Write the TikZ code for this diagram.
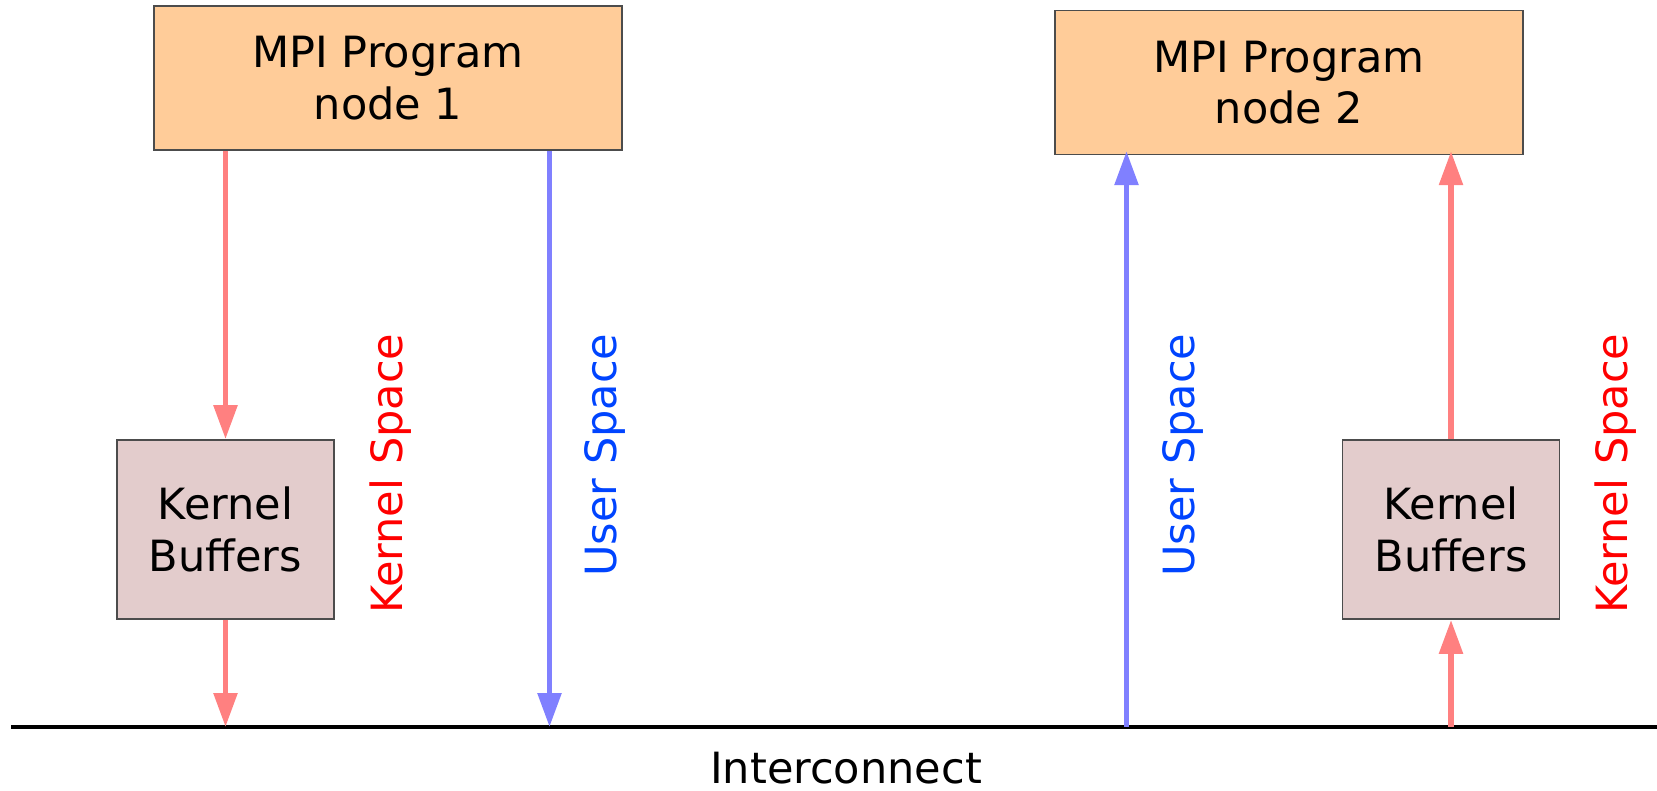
\documentclass[tikz,border=0pt]{standalone}
\usepackage{fontspec}
\setmainfont{DejaVu Sans}
\usepackage{tikz}
\usetikzlibrary{arrows.meta}

\definecolor{progfill}{HTML}{FFCC99}
\definecolor{buffill}{HTML}{E3CCCC}
\definecolor{kernarrow}{HTML}{FF8080}
\definecolor{userarrow}{HTML}{8080FF}
\definecolor{kerntext}{HTML}{FF0000}
\definecolor{usertext}{HTML}{0044FF}

\begin{document}
\begin{tikzpicture}[font=\fontsize{12.25pt}{14.6pt}\selectfont,
        prog/.style={draw=black!70, line width=0.5pt, fill=progfill,
            minimum width=4.68cm, minimum height=1.44cm, inner sep=0pt, align=center},
        kbuf/.style={draw=black!70, line width=0.5pt, fill=buffill,
            minimum width=2.17cm, minimum height=1.79cm, inner sep=0pt, align=center},
        kpath/.style={draw=kernarrow, line width=1.6pt, -{Triangle[length=0.34cm,width=0.23cm]}},
        upath/.style={draw=userarrow, line width=1.6pt, -{Triangle[length=0.34cm,width=0.23cm]}},
        klabel/.style={text=kerntext, rotate=90, anchor=base east, inner sep=0pt},
        ulabel/.style={text=usertext, rotate=90, anchor=base east, inner sep=0pt}]
        \useasboundingbox (0,0) rectangle (16.57,7.90);

        \node[prog] (prog1) at (3.88,7.12) {MPI Program\\node 1};
        \node[prog] (prog2) at (12.89,7.075) {MPI Program\\node 2};
        \node[kbuf] (kbuf1) at (2.255,2.605) {Kernel\\Buffers};
        \node[kbuf] (kbuf2) at (14.51,2.605) {Kernel\\Buffers};

        \coordinate (busL) at (0.11,0.63);
        \coordinate (busR) at (16.57,0.63);
        \draw[line width=1.3pt] (busL) -- (busR);
        \node[anchor=base] (net) at (8.46,0.07) {Interconnect};

        \coordinate (tapK1) at (2.255,0.63);
        \coordinate (tapU1) at (5.495,0.63);
        \coordinate (tapU2) at (11.265,0.63);
        \coordinate (tapK2) at (14.51,0.63);

        \draw[kpath] (prog1.south -| kbuf1.north) -- (kbuf1.north);
        \draw[kpath] (kbuf1.south) -- (tapK1);
        \draw[upath] (prog1.south -| tapU1) -- (tapU1);
        \draw[upath, shorten >=-1.2pt] (tapU2) -- (prog2.south -| tapU2);
        \draw[kpath] (tapK2) -- (kbuf2.south);
        \draw[kpath, shorten >=-1.2pt] (kbuf2.north) -- (prog2.south -| kbuf2.north);

        \node[klabel] (kspace1) at (4.02,4.57) {Kernel Space};
        \node[ulabel] (uspace1) at (6.16,4.57) {User Space};
        \node[ulabel] (uspace2) at (11.94,4.57) {User Space};
        \node[klabel] (kspace2) at (16.27,4.57) {Kernel Space};
    \end{tikzpicture}
\end{document}
